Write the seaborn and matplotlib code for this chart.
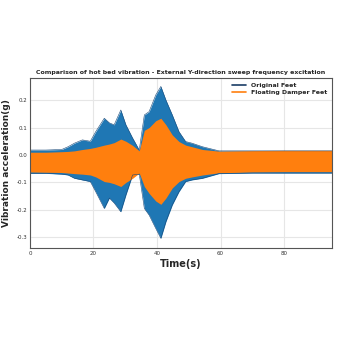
import numpy as np
import seaborn as sns
import matplotlib
matplotlib.use("Agg")
import matplotlib.pyplot as plt
from matplotlib.lines import Line2D

# envelope of the two acceleration signals
time_s = [0, 5, 10, 12, 14, 16.5, 19, 20.7, 23.4, 25, 26.5, 28.6, 30.2, 32.3, 34.4,
          36, 37.5, 39.6, 41.2, 42.8, 44.8, 46.9, 49, 51, 54.3, 59.5, 70, 80, 95]

orig_upper = [0.018, 0.018, 0.02, 0.03, 0.043, 0.055, 0.05, 0.085, 0.134, 0.117, 0.11, 0.164, 0.11, 0.062, 0.018,
              0.146, 0.158, 0.219, 0.25, 0.2, 0.146, 0.085, 0.049, 0.043, 0.03, 0.015, 0.015, 0.015, 0.015]
orig_lower = [-0.067, -0.067, -0.07, -0.073, -0.085, -0.091, -0.097, -0.134, -0.195, -0.157, -0.175, -0.207, -0.146, -0.073, -0.07,
              -0.195, -0.219, -0.268, -0.304, -0.243, -0.182, -0.134, -0.097, -0.091, -0.085, -0.068, -0.066, -0.066, -0.066]

damp_upper = [0.01, 0.01, 0.012, 0.013, 0.015, 0.02, 0.024, 0.028, 0.036, 0.04, 0.045, 0.058, 0.05, 0.035, 0.015,
              0.09, 0.1, 0.125, 0.134, 0.11, 0.073, 0.049, 0.036, 0.03, 0.02, 0.014, 0.016, 0.017, 0.017]
damp_lower = [-0.062, -0.063, -0.064, -0.066, -0.068, -0.07, -0.073, -0.08, -0.097, -0.1, -0.105, -0.115, -0.1, -0.085, -0.066,
              -0.115, -0.14, -0.168, -0.18, -0.157, -0.12, -0.097, -0.085, -0.08, -0.073, -0.065, -0.062, -0.061, -0.061]

sns.set_style("whitegrid", {"grid.color": "#e6e6e6", "axes.edgecolor": "#555555"})
plt.rcParams["font.family"] = ["DejaVu Sans"]

blue = "#1f77b4"
orange = "#ff7f0e"

fig = plt.figure(figsize=(3.4, 3.4), dpi=100)
ax = fig.add_axes([0.088, 0.27, 0.888, 0.50])

ax.fill_between(time_s, orig_lower, orig_upper, color=blue, lw=0)
sns.lineplot(x=time_s, y=orig_upper, ax=ax, color="#1a4a7a", lw=0.4)
sns.lineplot(x=time_s, y=orig_lower, ax=ax, color="#1a4a7a", lw=0.4)
ax.fill_between(time_s, damp_lower, damp_upper, color=orange, lw=0)

ax.set_xlim(0, 95)
ax.set_ylim(-0.34, 0.28)
ax.set_xticks([0, 20, 40, 60, 80])
ax.set_yticks([-0.3, -0.2, -0.1, 0.0, 0.1, 0.2])
ax.set_yticklabels(["-0.3", "-0.2", "-0.1", "0.0", "0.1", "0.2"])
ax.tick_params(labelsize=4, colors="#333333", length=0, pad=2)
for s in ax.spines.values():
    s.set_linewidth(0.8)

ax.set_title("Comparison of hot bed vibration - External Y-direction sweep frequency excitation",
             fontsize=4.5, fontweight="bold", pad=3)
ax.set_xlabel("Time(s)", fontsize=7, fontweight="bold", labelpad=2)
ax.set_ylabel("Vibration acceleration(g)", fontsize=6.5, fontweight="bold", labelpad=4)

handles = [Line2D([], [], color="#1a3d66", lw=1.2), Line2D([], [], color=orange, lw=1.2)]
leg = ax.legend(handles, ["Original Feet", "Floating Damper Feet"], loc="upper right",
                fontsize=4.5, frameon=False, handlelength=2.2, borderaxespad=0.3, labelspacing=0.3)
for t in leg.get_texts():
    t.set_fontweight("bold")

fig.savefig("out.png", dpi=100)
